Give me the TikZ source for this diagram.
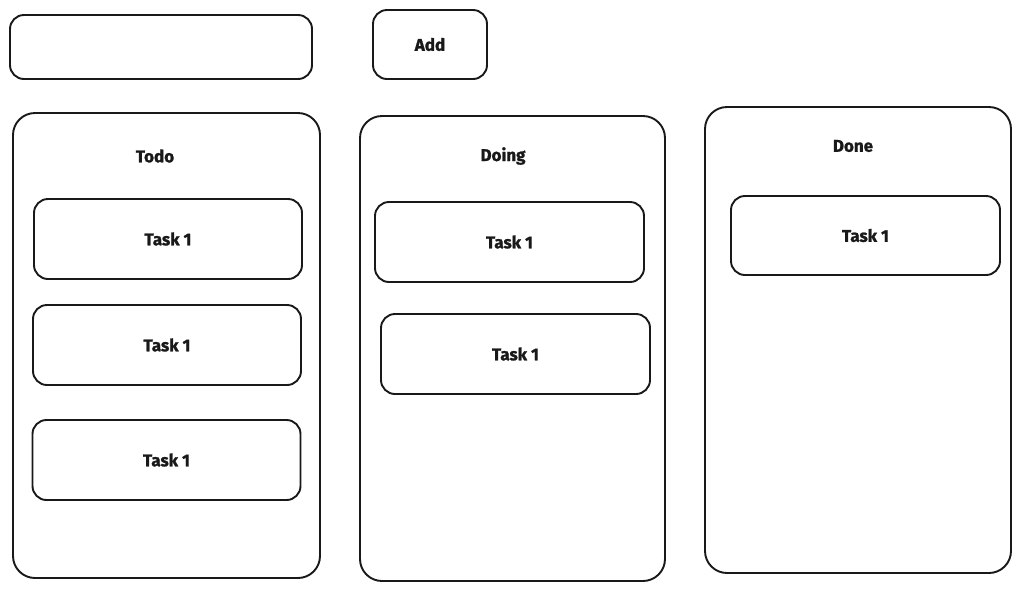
\documentclass[tikz,border=0pt]{standalone}
\usepackage{fontspec}
\setmainfont{Fira Sans}
\newfontfamily\heavy{Fira Sans}[BoldFeatures={FakeBold=1.2}]
\begin{document}
\begin{tikzpicture}[x=1pt,y=-1pt,
  box/.style={draw=black!90, line width=1.9pt, rounded corners=14pt, fill=white, inner sep=0pt},
  col/.style={box, rounded corners=22pt},
  lbl/.style={font=\heavy\fontsize{17}{20}\selectfont\bfseries, text=black!90, inner sep=0pt},
  task/.style={box, minimum width=268pt, minimum height=80pt, lbl}]
\useasboundingbox[fill=white] (0,0) rectangle (1021,590);
% top
\node[box, minimum width=302pt, minimum height=64pt] (input) at (161,47) {};
\node[box, minimum width=114pt, minimum height=69pt, lbl] (add) at (430,44.5) {Add};
% columns
\node[col, minimum width=307pt, minimum height=465pt] (todo) at (166.5,345.5) {};
\node[col, minimum width=305pt, minimum height=465pt] (doing) at (512.5,348.5) {};
\node[col, minimum width=306pt, minimum height=466pt] (done) at (858,340) {};
\node[lbl] (todoT) at (155,156) {Todo};
\node[lbl] (doingT) at (503,156) {Doing};
\node[lbl] (doneT) at (853,146) {Done};
% tasks
\node[task] (t1) at (168,239) {Task 1};
\node[task] (t2) at (167,345) {Task 1};
\node[task] (t3) at (166.5,460) {Task 1};
\node[task, minimum width=269pt] (d1) at (509.5,242) {Task 1};
\node[task, minimum width=269pt] (d2) at (515.5,354) {Task 1};
\node[task, minimum width=269pt, minimum height=79pt] (n1) at (865.5,235.5) {Task 1};
\end{tikzpicture}
\end{document}
